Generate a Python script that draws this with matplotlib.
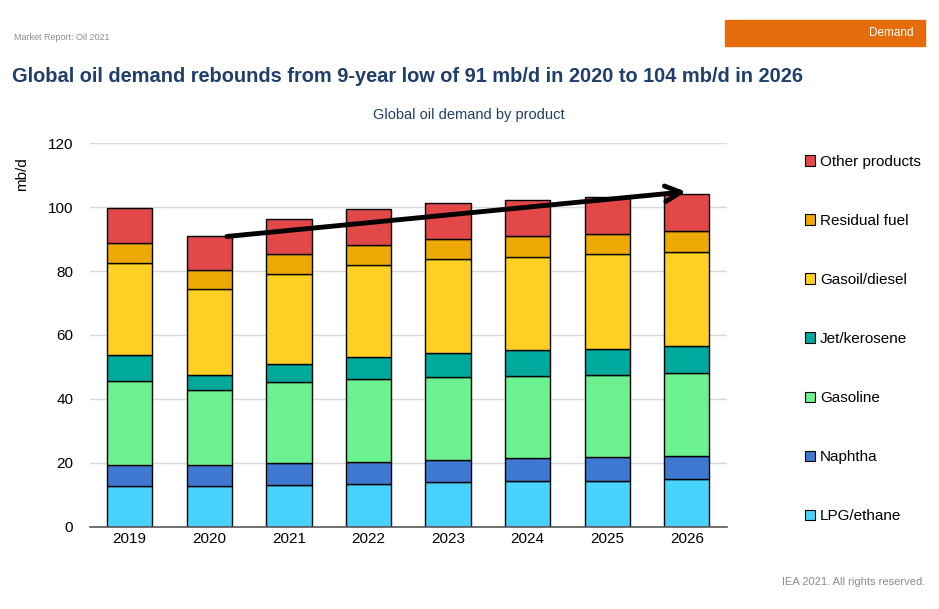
import numpy as np
import matplotlib
matplotlib.use('Agg')
import matplotlib.pyplot as plt
from matplotlib.patches import Rectangle, Patch

plt.rcParams['font.family'] = ['Liberation Sans', 'DejaVu Sans']

years = ['2019', '2020', '2021', '2022', '2023', '2024', '2025', '2026']
products = ['LPG/ethane', 'Naphtha', 'Gasoline', 'Jet/kerosene',
            'Gasoil/diesel', 'Residual fuel', 'Other products']
colors = ['#48D3FF', '#3F78D1', '#6BF18F', '#00A99C',
          '#FDD023', '#EEA902', '#E24848']

# mb/d by product
lpg      = [12.9, 12.7, 13.2, 13.4, 13.9, 14.3, 14.4, 14.8]
naphtha  = [6.3, 6.5, 6.7, 6.9, 6.9, 7.1, 7.3, 7.4]
gasoline = [26.5, 23.6, 25.3, 26.0, 25.9, 25.7, 25.9, 25.8]
jet      = [8.0, 4.6, 5.6, 6.7, 7.8, 8.1, 8.1, 8.5]
gasoil   = [28.8, 27.1, 28.4, 29.0, 29.2, 29.1, 29.5, 29.3]
residual = [6.3, 5.7, 6.2, 6.2, 6.2, 6.5, 6.5, 6.7]
other    = [10.8, 10.6, 11.0, 11.2, 11.3, 11.5, 11.6, 11.7]

series = [lpg, naphtha, gasoline, jet, gasoil, residual, other]

fig = plt.figure(figsize=(9.39, 6.09), dpi=100)
ax = fig.add_axes([0.0958, 0.135, 0.678, 0.63])

x = np.arange(len(years))
bottom = np.zeros(len(years))
for vals, name, col in zip(series, products, colors):
    ax.bar(x, vals, width=0.57, bottom=bottom, color=col,
           edgecolor='black', linewidth=1.0, label=name, zorder=3)
    bottom += np.array(vals)

ax.set_xlim(-0.5, 7.5)
ax.set_ylim(0, 120)
ax.set_yticks(range(0, 121, 20))
ax.set_xticks(x)
ax.set_xticklabels(years)
ax.tick_params(axis='both', length=0, labelsize=11, colors='black')
ax.tick_params(axis='y', pad=12)
ax.grid(axis='y', color='#d9d9d9', linewidth=1, zorder=0)
for s in ['top', 'right', 'left']:
    ax.spines[s].set_visible(False)
ax.spines['bottom'].set_color('#595959')
ax.spines['bottom'].set_linewidth(1.2)
ax.spines['bottom'].set_zorder(4)

ax.set_ylabel('mb/d', fontsize=11)
ax.yaxis.set_label_coords(-0.095, 0.92)

# trend arrow from 2020 to 2026 totals
ax.annotate('', xy=(6.99, bottom[-1] + 0.6), xytext=(1.22, bottom[1]),
            arrowprops=dict(arrowstyle='->', color='black', lw=3.5,
                            mutation_scale=28, shrinkA=0, shrinkB=0),
            zorder=5)

handles = [Patch(facecolor=c, edgecolor='black', linewidth=0.8)
           for c in colors][::-1]
ax.legend(handles, products[::-1], loc='upper left',
          bbox_to_anchor=(1.113, 0.985), frameon=False, fontsize=11,
          handlelength=0.7, handleheight=0.7, handletextpad=0.3,
          labelspacing=2.95, borderaxespad=0)

fig.text(14 / 939, 1 - 37 / 609, 'Market Report: Oil 2021', fontsize=6.5,
         color='#8c8c8c', va='center')
fig.patches.append(Rectangle((725 / 939, 1 - 46 / 609), 200 / 939, 26 / 609,
                             transform=fig.transFigure, color='#E46C0A'))
fig.text(914 / 939, 1 - 33 / 609, 'Demand', fontsize=8.5, color='white',
         ha='right', va='center')
fig.text(12 / 939, 1 - 77 / 609,
         'Global oil demand rebounds from 9-year low of 91 mb/d in 2020 to 104 mb/d in 2026',
         fontsize=14.4, fontweight='bold', color='#1F3E6C', va='center')
fig.text(469 / 939, 1 - 115 / 609, 'Global oil demand by product',
         fontsize=10.5, color='#1F3E6C', ha='center', va='center')
fig.text(925 / 939, 1 - 582 / 609, 'IEA 2021. All rights reserved.',
         fontsize=8, color='#8c8c8c', ha='right', va='center')

fig.savefig('out.png', dpi=100)
